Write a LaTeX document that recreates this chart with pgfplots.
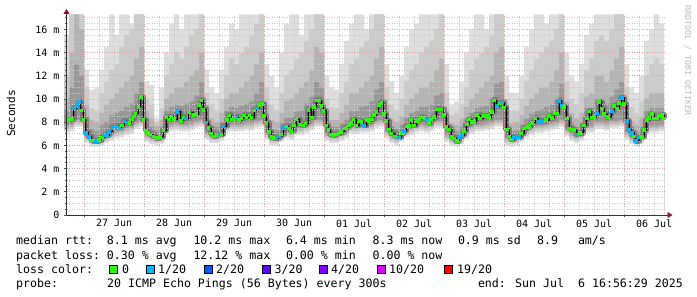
\documentclass[border=0pt]{standalone}
\usepackage{fontspec}
\setmainfont{DejaVu Sans Mono}
\setmonofont{DejaVu Sans Mono}
\usepackage{pgfplots}
\pgfplotsset{compat=1.18}
\usepackage{pgfplotstable}
\usetikzlibrary{arrows.meta}
\definecolor{c0}{HTML}{26FF00}
\definecolor{c1}{HTML}{00B8FF}
\definecolor{c2}{HTML}{0059FF}
\definecolor{c3}{HTML}{5E00FF}
\definecolor{c4}{HTML}{7E00FF}
\definecolor{c10}{HTML}{DD00FF}
\definecolor{c19}{HTML}{FF0000}
\definecolor{gA}{HTML}{DEDEDE}
\definecolor{gB}{HTML}{CBCBCB}
\definecolor{gC}{HTML}{B4B4B4}
\definecolor{gD}{HTML}{989898}
\definecolor{gE}{HTML}{7C7C7C}
\definecolor{gF}{HTML}{555555}
\definecolor{gridred}{HTML}{E4A0A0}
\definecolor{gridgray}{HTML}{CACACA}
\definecolor{arrowred}{HTML}{8B1A1A}
\definecolor{wm}{HTML}{BBBBBB}
\pgfplotsset{layers/smoke/.define layer set={axis background,pre main,axis grid,axis ticks,axis lines,axis tick labels,main,axis descriptions,axis foreground}{}}
\newcommand\legfont{\fontsize{11.6bp}{14bp}\selectfont}

\pgfplotstableread{
t lo u1 u2 u3 u4
-8 7.1 15.5 12.0 10.0 9.0
-6 7.2 17.3 17.3 14.0 11.0
-4 7.6 17.3 17.3 17.3 13.0
-2 7.6 17.3 17.3 16.0 12.0
0 6.2 12.5 11.0 9.5 8.5
2 5.9 10.8 9.2 8.2 7.4
4 5.9 11.0 9.0 8.0 7.2
6 6.0 12.5 10.5 8.8 7.8
8 6.2 14.5 11.5 9.5 8.0
10 6.4 17.3 12.5 10.0 8.6
12 6.6 15.5 13.0 10.5 8.8
14 6.7 17.3 14.5 11.0 9.0
16 6.9 17.3 15.5 11.5 9.3
18 7.0 16.5 16.0 12.0 9.6
20 7.4 17.3 17.3 13.5 10.5
22 7.6 17.3 17.3 14.5 11.5
24 6.3 11.5 10.0 9.0 8.2
26 6.1 11.2 9.5 8.3 7.6
28 6.0 8.4 8.0 7.7 7.3
30 6.1 11.0 9.2 8.2 7.6
32 7.0 14.0 12.0 10.0 9.0
34 7.2 16.5 13.0 10.5 9.3
36 7.3 17.3 14.0 11.0 9.5
38 7.2 16.0 13.5 11.0 9.4
40 7.2 17.3 14.5 11.5 9.6
42 7.3 17.3 15.5 12.0 9.8
44 7.5 17.3 16.0 12.5 10.3
46 7.6 17.3 17.3 14.0 11.5
48 6.5 12.5 10.5 9.5 8.6
50 6.2 11.0 9.5 8.3 7.7
52 6.2 10.5 9.0 8.0 7.6
54 6.4 12.5 10.0 8.8 8.0
56 7.1 14.5 12.0 10.0 9.0
58 7.2 16.5 13.5 10.5 9.3
60 7.2 16.0 13.0 10.5 9.2
62 7.2 17.3 14.0 11.0 9.4
64 7.3 17.3 14.5 11.5 9.6
66 7.3 17.3 15.5 12.0 9.8
68 7.5 17.3 16.5 13.0 10.5
70 7.6 17.3 17.3 14.0 11.5
72 6.5 13.0 11.0 9.5 8.5
74 6.0 12.0 9.5 8.2 7.4
76 6.0 11.0 9.0 8.0 7.3
78 6.3 14.0 10.5 8.8 7.9
80 6.6 16.5 12.0 9.8 8.4
82 6.5 17.3 12.5 10.0 8.4
84 6.9 17.3 13.5 10.5 8.9
86 6.9 15.5 14.0 11.0 9.0
88 7.1 17.3 15.0 11.5 9.6
90 7.3 17.3 16.0 12.5 10.2
92 7.6 17.3 17.3 14.5 11.5
94 7.6 17.3 17.3 14.0 11.0
96 6.4 12.0 10.0 9.0 8.3
98 6.2 11.0 9.3 8.2 7.6
100 6.2 10.8 9.2 8.2 7.6
102 6.4 13.0 10.5 8.8 7.9
104 6.6 15.0 11.5 9.5 8.2
106 7.0 16.5 13.0 10.5 9.0
108 7.0 17.3 13.5 10.5 9.0
110 7.1 17.3 14.5 11.0 9.3
112 7.1 16.0 15.0 11.5 9.4
114 7.2 17.3 16.0 12.0 9.8
116 7.5 17.3 17.3 13.5 10.8
118 7.6 17.3 17.3 14.5 11.5
120 6.6 13.0 11.0 9.5 8.6
122 6.2 11.5 9.5 8.3 7.6
124 6.0 10.5 9.0 8.0 7.4
126 6.3 12.0 10.0 8.5 7.8
128 6.7 14.5 11.5 9.5 8.4
130 6.9 16.0 12.5 10.0 8.8
132 7.1 16.5 13.0 10.5 9.0
134 7.2 17.3 14.0 11.0 9.3
136 7.1 17.3 14.5 11.0 9.3
138 7.2 17.3 15.0 11.5 9.5
140 7.5 17.3 16.0 12.5 10.3
142 7.5 17.3 17.3 13.5 10.5
144 6.3 13.0 10.5 9.0 8.2
146 6.0 9.5 8.6 7.9 7.4
148 5.9 9.8 8.8 7.8 7.2
150 6.1 11.5 9.5 8.3 7.6
152 6.6 14.0 11.0 9.3 8.3
154 7.0 16.0 12.5 10.0 8.8
156 7.2 17.3 13.5 10.5 9.2
158 7.2 17.3 14.0 11.0 9.3
160 7.3 16.0 14.5 11.5 9.4
162 7.4 17.3 15.5 12.0 10.0
164 7.6 17.3 17.3 14.0 11.3
166 7.6 17.3 17.3 14.5 11.5
168 6.0 12.0 10.0 8.8 7.9
170 5.9 10.5 9.0 7.9 7.2
172 6.0 10.5 9.0 8.0 7.3
174 6.3 12.0 10.0 8.6 7.8
176 6.6 14.5 11.5 9.4 8.3
178 6.9 16.0 12.5 10.0 8.7
180 7.1 17.3 13.5 10.5 9.0
182 7.1 17.3 14.0 11.0 9.1
184 7.2 16.5 14.5 11.0 9.3
186 7.3 17.3 15.0 11.5 9.5
188 7.4 17.3 16.0 12.5 10.0
190 7.6 17.3 17.3 14.0 11.3
192 6.8 14.0 11.5 9.8 8.8
194 6.4 12.0 10.0 8.8 7.9
196 6.2 11.5 9.5 8.3 7.6
198 6.4 13.0 10.5 8.8 7.9
200 7.1 15.5 12.5 10.2 9.2
202 7.1 16.5 13.5 10.5 9.2
204 7.4 17.3 15.0 12.0 10.0
206 7.4 17.3 15.5 12.0 10.0
208 7.3 17.3 15.0 11.5 9.6
210 7.5 17.3 16.0 12.5 10.2
212 7.5 17.3 17.3 13.5 10.8
214 7.6 17.3 17.3 14.5 11.5
216 6.5 13.0 11.0 9.5 8.5
218 6.1 11.0 9.3 8.1 7.5
220 5.9 10.5 8.8 7.8 7.2
222 6.1 12.0 9.8 8.4 7.6
224 6.9 15.0 12.0 10.0 9.0
226 7.1 16.0 13.0 10.5 9.2
228 7.1 17.3 13.5 10.5 9.2
230 7.2 16.5 13.0 10.5 9.2
232 7.2 16.5 13.0 10.5 9.2
}\smoke

\pgfplotstableread{
t m c
-7.2 8.1 a
-6.4 8.19 a
-5.05 8.3 a
-4.1 9.2 b
-3.05 9.4 b
-2.1 9.77 b
-1.3 9.05 a
-0.39 8.2 a
0.68 7.1 b
1.88 6.75 b
2.95 6.46 a
3.95 6.35 b
4.95 6.35 b
5.95 6.5 a
6.95 6.7 a
8.0 6.87 b
9.0 6.9 b
10.0 7.18 b
11.2 7.55 b
12.1 7.65 b
12.9 7.67 b
14.0 7.55 b
14.95 7.75 a
16.0 8.1 b
17.1 8.0 b
18.0 7.96 a
18.95 8.25 a
19.8 8.5 a
20.5 8.77 a
21.6 9.35 a
22.7 10.2 a
23.6 8.2 a
24.7 7.3 a
25.5 7.1 a
26.3 6.98 a
27.6 6.8 a
28.9 6.66 a
30.3 6.75 a
31.6 7.3 a
32.9 8.45 a
33.9 8.25 a
34.9 8.48 a
35.9 8.28 a
37.2 8.9 b
38.7 8.13 a
39.7 8.42 a
40.7 8.33 b
41.9 8.86 a
43.6 8.65 a
44.9 8.71 a
45.9 9.5 a
46.8 9.9 a
47.7 9.1 a
48.8 8.0 b
49.7 7.5 a
50.8 7.04 a
51.9 6.8 a
52.9 6.9 a
54.0 6.95 b
54.9 6.95 a
55.7 7.67 b
57.0 8.19 a
58.0 8.6 a
58.9 8.25 a
59.9 8.3 a
60.8 8.42 b
61.9 8.19 a
62.9 8.33 a
63.9 8.6 a
64.9 8.42 a
66.0 8.6 a
66.9 8.42 a
68.0 9.05 a
69.0 9.2 b
70.0 9.5 a
71.0 9.6 a
71.9 8.54 a
72.8 7.96 a
73.9 7.18 a
74.9 6.75 a
75.9 6.66 a
76.9 6.61 b
77.9 6.8 b
78.9 6.98 a
79.9 7.55 b
80.9 7.67 a
81.9 7.47 a
82.9 7.27 a
83.9 7.73 a
84.9 8.28 a
86.3 7.84 a
87.6 7.75 a
88.5 7.9 a
89.7 9.1 a
91.0 8.42 a
91.9 9.35 a
92.9 9.9 a
93.9 9.9 a
94.9 9.4 a
95.7 9.0 a
96.8 7.75 a
97.6 7.33 a
98.5 6.98 a
99.6 6.9 a
100.6 6.98 a
101.6 7.04 a
102.7 7.18 a
104.0 7.47 a
104.9 7.55 a
105.8 7.8 a
106.9 7.96 a
107.7 8.25 a
108.8 7.75 a
110.0 8.13 a
110.9 8.05 a
111.9 7.73 b
113.0 8.19 a
113.9 8.1 a
115.0 8.25 a
115.9 8.62 a
116.9 8.9 a
117.9 9.5 a
118.9 9.7 a
119.9 8.71 a
120.9 8.13 a
121.9 7.39 a
122.9 7.04 a
124.3 6.8 a
125.9 6.7 b
126.9 7.1 a
127.9 7.27 b
128.9 7.67 a
129.8 7.7 a
130.7 8.19 a
131.9 7.75 a
132.9 8.13 a
133.9 8.25 a
134.9 8.42 a
136.0 8.33 a
136.9 8.19 b
137.9 7.96 a
138.7 8.25 a
139.8 8.48 a
141.0 9.13 a
142.0 9.13 a
142.7 9.13 a
143.9 8.62 a
144.8 7.61 a
145.9 7.39 a
147.0 6.75 a
147.9 6.61 a
148.9 6.41 a
150.0 6.75 b
150.9 6.9 b
151.9 7.27 a
152.9 7.84 a
153.9 8.25 a
154.9 8.05 a
155.9 8.05 a
156.9 8.62 a
158.3 8.33 a
159.6 8.54 a
160.9 8.54 a
161.9 8.42 a
162.9 8.88 a
163.9 9.9 a
164.9 9.4 b
166.0 9.63 a
166.9 9.71 b
167.9 9.28 a
168.9 7.41 a
169.9 6.8 a
170.9 6.52 a
171.9 6.7 b
172.9 6.75 b
173.9 6.75 b
174.7 7.04 a
175.9 7.47 a
177.0 7.61 a
177.9 7.7 a
178.9 7.96 a
180.3 8.33 a
181.6 8.1 b
182.4 8.1 b
183.2 8.1 b
184.7 8.19 a
185.9 8.54 a
187.0 8.39 a
188.0 8.82 a
188.9 8.76 a
190.0 9.85 b
190.9 9.4 b
191.9 9.35 a
192.9 8.33 a
193.9 7.47 a
195.0 7.39 a
195.9 7.33 a
196.9 6.98 b
198.3 7.1 a
199.7 7.75 a
200.9 8.33 a
201.9 8.96 a
202.9 8.42 a
203.9 8.48 a
204.9 8.76 b
205.9 9.77 a
207.0 9.2 a
207.9 8.71 a
209.3 8.48 a
210.9 9.0 b
211.9 9.4 a
213.0 9.2 a
213.9 9.68 a
214.9 10.1 b
215.9 9.57 a
216.9 8.13 b
217.9 7.41 b
218.9 7.1 b
219.9 6.8 a
220.6 6.41 b
221.9 6.75 b
222.9 6.75 a
223.9 7.33 a
224.9 8.19 a
225.9 8.39 a
226.9 8.71 a
227.9 8.33 a
228.9 8.33 a
229.9 8.54 a
230.9 8.62 a
231.9 8.33 a
}\med

\begin{document}
\begin{tikzpicture}
\begin{axis}[
  set layers=smoke,
  at={(66.5bp,82bp)}, anchor=south west,
  scale only axis, width=600bp, height=200bp,
  xmin=-7.058, xmax=232.942, ymin=0, ymax=17.24,
  axis lines=left,
  axis line style={draw=black!80, line width=0.8bp},
  x axis line style={-{Triangle[length=5bp,width=6bp,color=arrowred]}, shorten >=-6bp},
  y axis line style={-{Triangle[length=5bp,width=6bp,color=arrowred]}, shorten >=-6bp},
  tick align=outside,
  major tick length=2.5bp, minor tick length=1.5bp,
  tick style={draw=black!70, line width=0.6bp},
  grid=both,
  major grid style={draw=gridred, dash pattern=on 1bp off 1.5bp, line width=0.8bp},
  minor grid style={draw=gridgray, dash pattern=on 1bp off 1.5bp, line width=0.8bp},
  xtick={0,24,...,216}, xticklabels={,,,,,,,,,},
  minor xtick={-6,6,12,18,30,36,42,54,60,66,78,84,90,102,108,114,126,132,138,150,156,162,174,180,186,198,204,210,222,228},
  extra x ticks={12,36,60,84,108,132,156,180,204,228},
  extra x tick labels={27 Jun,28 Jun,29 Jun,30 Jun,01 Jul,02 Jul,03 Jul,04 Jul,05 Jul,06 Jul},
  extra x tick style={grid=none, major tick length=0pt},
  ytick={0,2,...,16},
  yticklabels={0,2 m,4 m,6 m,8 m,10 m,12 m,14 m,16 m},
  minor ytick={0.5,1,1.5,2.5,3,3.5,4.5,5,5.5,6.5,7,7.5,8.5,9,9.5,10.5,11,11.5,12.5,13,13.5,14.5,15,15.5,16.5,17},
  ticklabel style={font=\fontsize{10bp}{12bp}\selectfont, text=black},
  xticklabel style={yshift=-1bp},
  yticklabel style={xshift=-1bp},
  clip=true,
]
% smoke: upper bands, from light to dark
\addplot[on layer=pre main, const plot, fill=gA, draw=none] table[x=t, y=u1] {\smoke} \closedcycle;
\addplot[on layer=pre main, const plot, fill=gB, draw=none] table[x=t, y=u2] {\smoke} \closedcycle;
\addplot[on layer=pre main, const plot, fill=gC, draw=none] table[x=t, y=u3] {\smoke} \closedcycle;
\addplot[on layer=pre main, const plot, fill=gD, draw=none] table[x=t, y=u4] {\smoke} \closedcycle;
% smoke: lower fringe
\addplot[on layer=pre main, const plot, fill=gC, draw=none] table[x=t, y expr=\thisrow{lo}+0.6] {\smoke} \closedcycle;
\addplot[on layer=pre main, const plot, fill=gB, draw=none] table[x=t, y expr=\thisrow{lo}+0.4] {\smoke} \closedcycle;
\addplot[on layer=pre main, const plot, fill=gA, draw=none] table[x=t, y expr=\thisrow{lo}+0.2] {\smoke} \closedcycle;
\addplot[on layer=pre main, const plot, fill=white, draw=none] table[x=t, y=lo] {\smoke} \closedcycle;
% dense core of the smoke around the median
\addplot[on layer=pre main, const plot, draw=gE, line width=6bp, line join=round, line cap=butt, mark=none] table[x=t, y=m] {\med};
\addplot[on layer=pre main, const plot, draw=gF, line width=2.5bp, line join=round, line cap=butt, mark=none] table[x=t, y=m] {\med};
% median line
\addplot[const plot, draw=black, line width=0.8bp, line join=round, mark=none] table[x=t, y=m] {\med};
\addplot[scatter, only marks, scatter src=explicit symbolic, mark size=1.3bp,
  scatter/classes={a={mark=square*, c0}, b={mark=square*, c1}}]
  table[x=t, y=m, meta=c] {\med};
\end{axis}

% axis title and watermark
\node[rotate=90, anchor=base, inner sep=0, font=\fontsize{11.1bp}{13bp}\selectfont] at (15bp,183.5bp) {Seconds};
\node[rotate=-90, anchor=base west, inner sep=0, text=wm, font=\fontsize{8.3bp}{10bp}\selectfont] at (685bp,292bp) {RRDTOOL / TOBI OETIKER};

% legend lines
\begin{scope}[every node/.style={anchor=base west, inner sep=0, font=\legfont}]
\node at (16bp,52bp) {median rtt:};
\node at (106.7bp,52bp) {8.1 ms avg};
\node at (193.3bp,52bp) {10.2 ms max};
\node at (285.8bp,52bp) {6.4 ms min};
\node at (372.4bp,52bp) {8.3 ms now};
\node at (457.8bp,52bp) {0.9 ms sd};
\node at (536.9bp,52bp) {8.9};
\node at (577.8bp,52bp) {am/s};
\node at (16bp,38bp) {packet loss:};
\node at (106.7bp,38bp) {0.30 \% avg};
\node at (193.3bp,38bp) {12.12 \% max};
\node at (285.8bp,38bp) {0.00 \% min};
\node at (372.4bp,38bp) {0.00 \% now};
\node at (16bp,24bp) {loss color:};
\node at (122bp,24bp) {0};
\node at (158bp,24bp) {1/20};
\node at (216bp,24bp) {2/20};
\node at (274.5bp,24bp) {3/20};
\node at (331bp,24bp) {4/20};
\node at (389bp,24bp) {10/20};
\node at (457bp,24bp) {19/20};
\node at (16bp,10bp) {probe:};
\node at (107bp,10bp) {20 ICMP Echo Pings (56 Bytes) every 300s};
\node at (477.8bp,10bp) {end: Sun Jul~~6 16:56:29 2025};
\end{scope}
\begin{scope}[line width=0.8bp, draw=black]
\draw[fill=c0] (109bp,24bp) rectangle ++(8bp,8bp);
\draw[fill=c1] (146bp,24bp) rectangle ++(8bp,8bp);
\draw[fill=c2] (204bp,24bp) rectangle ++(8bp,8bp);
\draw[fill=c3] (262.5bp,24bp) rectangle ++(8bp,8bp);
\draw[fill=c4] (319bp,24bp) rectangle ++(8bp,8bp);
\draw[fill=c10] (377bp,24bp) rectangle ++(8bp,8bp);
\draw[fill=c19] (444bp,24bp) rectangle ++(8bp,8bp);
\end{scope}
\path (0,0) rectangle (697bp,297bp);
\end{tikzpicture}
\end{document}
